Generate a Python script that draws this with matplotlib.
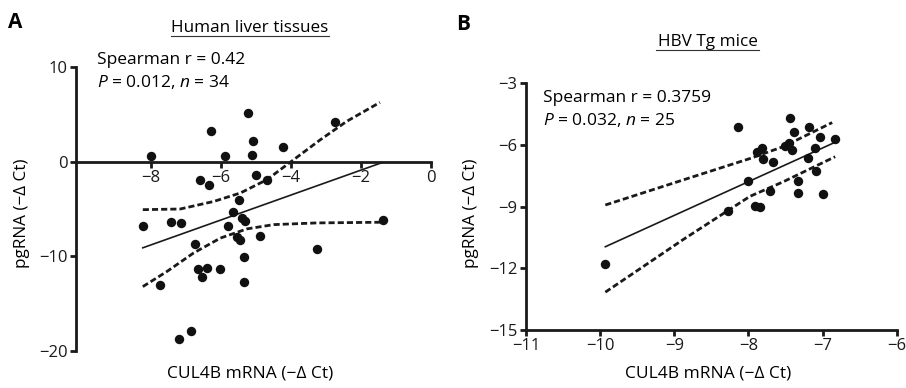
import matplotlib
matplotlib.use("Agg")
import matplotlib.pyplot as plt
from matplotlib.lines import Line2D

plt.rcParams['font.family'] = ['Open Sans', 'DejaVu Sans']
plt.rcParams['mathtext.fontset'] = 'custom'
plt.rcParams['mathtext.rm'] = 'Open Sans'
plt.rcParams['mathtext.it'] = 'Open Sans:italic'

# Panel A: human liver tissues
a_x = [-8.01, -6.29, -5.90, -5.22, -5.09, -5.12, -4.22, -2.74, -5.00, -4.69,
       -6.60, -6.35, -5.50, -5.67, -5.41, -5.31, -5.81, -5.55, -5.45, -4.90,
       -8.24, -7.44, -7.16, -6.76, -5.35, -6.65, -6.41, -6.56, -6.03, -7.74,
       -5.36, -3.25, -1.38, -7.20, -6.86]
a_y = [0.56, 3.27, 0.56, 5.14, 2.14, 0.74, 1.51, 4.15, -1.44, -1.90,
       -1.94, -2.43, -4.05, -5.32, -5.95, -6.30, -6.83, -7.95, -8.30, -7.89,
       -6.83, -6.40, -6.48, -8.66, -10.03, -11.33, -11.23, -12.20, -11.33, -13.06,
       -12.74, -9.19, -6.20, -18.70, -17.85]
a_fit_x = [-8.24, -1.40]
a_fit_y = [-9.10, -0.10]
a_hi_x = [-8.24, -7.17, -6.21, -5.45, -4.69, -3.93, -3.17, -2.41, -1.46]
a_hi_y = [-5.07, -5.00, -4.20, -3.31, -1.90, 0.20, 2.30, 4.26, 6.26]
a_lo_x = [-8.24, -7.55, -6.79, -6.02, -5.26, -4.50, -3.26, -1.46]
a_lo_y = [-13.20, -11.60, -9.65, -8.07, -7.10, -6.65, -6.47, -6.40]

# Panel B: HBV Tg mice
b_x = [-8.14, -7.44, -7.38, -7.18, -7.04, -6.83, -7.89, -7.82, -7.80, -7.67,
       -7.45, -7.41, -7.10, -7.20, -7.09, -8.00, -7.71, -7.33, -7.33, -7.00,
       -7.91, -7.84, -8.28, -9.93, -7.50]
b_y = [-5.11, -4.70, -5.38, -5.11, -5.60, -5.72, -6.33, -6.16, -6.70, -6.81,
       -5.92, -6.24, -6.16, -6.65, -7.25, -7.75, -8.22, -7.74, -8.35, -8.38,
       -8.97, -9.03, -9.20, -11.80, -6.05]
b_fit_x = [-9.93, -6.85]
b_fit_y = [-10.95, -5.90]
b_hi_x = [-9.93, -8.88, -7.98, -7.53, -6.87]
b_hi_y = [-8.92, -7.70, -6.66, -6.08, -4.91]
b_lo_x = [-9.93, -8.88, -7.98, -7.53, -6.83]
b_lo_y = [-13.16, -10.60, -8.50, -7.79, -6.57]

W, H = 906, 388
fig = plt.figure(figsize=(W / 100, H / 100), dpi=100)


def fx(px):
    return px / W


def fy(py):
    return 1 - py / H


def draw_panel(ax, x, y, fit_x, fit_y, hi_x, hi_y, lo_x, lo_y):
    for side in ['top', 'right']:
        ax.spines[side].set_visible(False)
    for side in ['left', 'bottom']:
        ax.spines[side].set_linewidth(2.0)
        ax.spines[side].set_color('#1a1a1a')
    ax.tick_params(width=2.0, length=4, labelsize=12, colors='#1a1a1a', pad=2)
    ax.plot(fit_x, fit_y, color='#1a1a1a', lw=1.2, zorder=2)
    ax.plot(hi_x, hi_y, color='#1a1a1a', lw=2.0, ls=(0, (2.2, 1.1)), zorder=2)
    ax.plot(lo_x, lo_y, color='#1a1a1a', lw=2.0, ls=(0, (2.2, 1.1)), zorder=2)
    ax.scatter(x, y, s=46, color='#111111', zorder=3, clip_on=False, linewidths=0)
    ax.patch.set_alpha(0)


axA = fig.add_axes([fx(76), fy(351), fx(431 - 76), (351 - 67) / H])
axA.set_xlim(-10.15, 0)
axA.set_ylim(-20, 10)
axA.set_xticks([-8, -6, -4, -2, 0])
axA.set_yticks([-20, -10, 0, 10])
axA.spines['bottom'].set_position(('data', 0))
draw_panel(axA, a_x, a_y, a_fit_x, a_fit_y, a_hi_x, a_hi_y, a_lo_x, a_lo_y)

axB = fig.add_axes([fx(526), fy(330), fx(896.7 - 526), (330 - 83.3) / H])
axB.set_xlim(-11, -6)
axB.set_ylim(-15, -3)
axB.set_xticks([-11, -10, -9, -8, -7, -6])
axB.set_yticks([-15, -12, -9, -6, -3])
draw_panel(axB, b_x, b_y, b_fit_x, b_fit_y, b_hi_x, b_hi_y, b_lo_x, b_lo_y)

# panel letters
fig.text(fx(8), fy(23), 'A', fontsize=15, fontweight='bold', va='center', ha='left')
fig.text(fx(456), fy(25), 'B', fontsize=15, fontweight='bold', va='center', ha='left')

# underlined titles
fig.text(fx(250), fy(28), 'Human liver tissues', fontsize=12.3, ha='center', va='center')
fig.add_artist(Line2D([fx(171), fx(329)], [fy(35.5), fy(35.5)], color='#333333', lw=0.8))
fig.text(fx(708), fy(42), 'HBV Tg mice', fontsize=12.3, ha='center', va='center')
fig.add_artist(Line2D([fx(656), fx(759)], [fy(49.5), fy(49.5)], color='#333333', lw=0.8))

# statistics
fig.text(fx(97), fy(60), 'Spearman r = 0.42', fontsize=12.5, ha='left', va='center')
fig.text(fx(97), fy(82), r'$P$ = 0.012, $n$ = 34', fontsize=12.5, ha='left', va='center')
fig.text(fx(543), fy(98), 'Spearman r = 0.3759', fontsize=12.5, ha='left', va='center')
fig.text(fx(543), fy(120), r'$P$ = 0.032, $n$ = 25', fontsize=12.5, ha='left', va='center')

# axis labels
fig.text(fx(250), fy(373), 'CUL4B mRNA (\u2212\u0394 Ct)', fontsize=12.5, ha='center', va='center')
fig.text(fx(708), fy(373), 'CUL4B mRNA (\u2212\u0394 Ct)', fontsize=12.5, ha='center', va='center')
fig.text(fx(22), fy(213), 'pgRNA (\u2212\u0394 Ct)', fontsize=12.3, ha='center', va='center', rotation=90)
fig.text(fx(471), fy(213), 'pgRNA (\u2212\u0394 Ct)', fontsize=12.3, ha='center', va='center', rotation=90)

fig.savefig('out.png', dpi=100)
